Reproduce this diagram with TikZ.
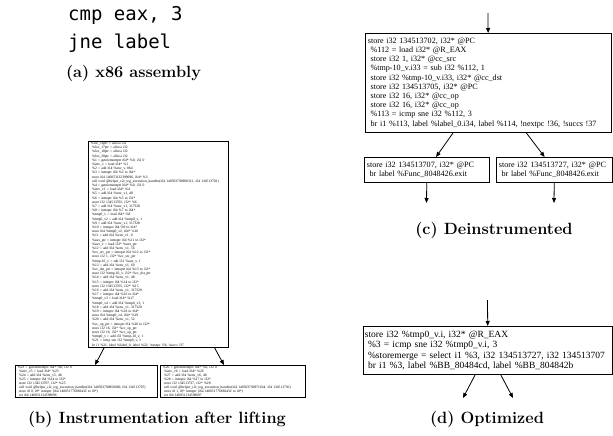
\documentclass[tikz,border=0pt]{standalone}
\usepackage{fontspec}
\newfontfamily\irfont{Liberation Serif}
\newfontfamily\asmfont{DejaVu Sans Mono}
\usetikzlibrary{arrows.meta}

\tikzset{
  irbox/.style={draw, line width=0.8pt, anchor=north west, align=left,
    inner xsep=2.5pt, inner ysep=0pt},
  tinyir/.style={font=\irfont\fontsize{3.6}{4.2}\selectfont},
  smallir/.style={font=\irfont\fontsize{3.6}{3.9}\selectfont},
  midir/.style={font=\irfont\fontsize{8.1}{9.2}\selectfont},
  optir/.style={font=\irfont\fontsize{9.5}{10.4}\selectfont},
  arr/.style={-{Triangle[length=5pt,width=4pt]}, line width=0.8pt},
  caption/.style={font=\bfseries\fontsize{16.3}{19}\selectfont, inner sep=0pt},
  asmline/.style={font=\asmfont\fontsize{19}{22}\selectfont, anchor=west, inner sep=0pt}
}

\begin{document}
\begin{tikzpicture}[x=1pt,y=-1pt]
\useasboundingbox (0,0) rectangle (613,436);

% (a) source instructions
\node[asmline] (asmA) at (68,15) {cmp eax, 3};
\node[asmline] (asmB) at (68,43) {jne label};
\node[caption] (capA) at (133.5,73) {(a) x86 assembly};

% (b) lifted block with instrumentation
\node[irbox, tinyir, minimum width=140, minimum height=206, text width=135] (bmain) at (88,141) {%
\%loc\_16ptr = alloca i32\\
\ \%loc\_17ptr = alloca i32\\
\ \%loc\_18ptr = alloca i32\\
\ \%loc\_20ptr = alloca i32\\
\ \%1 = getelementptr i64* \%0, i32 0\\
\ \%env\_v = load i64* \%1\\
\ \%2 = add i64 \%env\_v, 864\\
\ \%3 = inttoptr i64 \%2 to i64*\\
\ store i64 140053132399696, i64* \%3\\
\ call void @helper\_c2r\_tcg\_execution\_handler(i64 140503790908312, i64 134513702)\\
\ \%4 = getelementptr i64* \%0, i32 0\\
\ \%env\_v1 = load i64* \%4\\
\ \%5 = add i64 \%env\_v1, 48\\
\ \%6 = inttoptr i64 \%5 to i32*\\
\ store i32 134513702, i32* \%6\\
\ \%7 = add i64 \%env\_v1, 317328\\
\ \%8 = inttoptr i64 \%7 to i64*\\
\ \%tmp0\_v = load i64* \%8\\
\ \%tmp0\_v2 = add i64 \%tmp0\_v, 1\\
\ \%9 = add i64 \%env\_v1, 317328\\
\ \%10 = inttoptr i64 \%9 to i64*\\
\ store i64 \%tmp0\_v2, i64* \%10\\
\ \%11 = add i64 \%env\_v1, 0\\
\ \%eax\_ptr = inttoptr i64 \%11 to i32*\\
\ \%eax\_v = load i32* \%eax\_ptr\\
\ \%12 = add i64 \%env\_v1, 56\\
\ \%cc\_src\_ptr = inttoptr i64 \%12 to i32*\\
\ store i32 1, i32* \%cc\_src\_ptr\\
\ \%tmp-10\_v = sub i32 \%eax\_v, 1\\
\ \%13 = add i64 \%env\_v1, 60\\
\ \%cc\_dst\_ptr = inttoptr i64 \%13 to i32*\\
\ store i32 \%tmp-10\_v, i32* \%cc\_dst\_ptr\\
\ \%14 = add i64 \%env\_v1, 48\\
\ \%15 = inttoptr i64 \%14 to i32*\\
\ store i32 134513705, i32* \%15\\
\ \%16 = add i64 \%env\_v1, 317328\\
\ \%17 = inttoptr i64 \%16 to i64*\\
\ \%tmp0\_v3 = load i64* \%17\\
\ \%tmp0\_v4 = add i64 \%tmp0\_v3, 1\\
\ \%18 = add i64 \%env\_v1, 317328\\
\ \%19 = inttoptr i64 \%18 to i64*\\
\ store i64 \%tmp0\_v4, i64* \%19\\
\ \%20 = add i64 \%env\_v1, 52\\
\ \%cc\_op\_ptr = inttoptr i64 \%20 to i32*\\
\ store i32 16, i32* \%cc\_op\_ptr\\
\ store i32 16, i32* \%cc\_op\_ptr\\
\ \%tmp0\_v = add i32 \%tmp-10\_v, 1\\
\ \%21 = icmp sne i32 \%tmp0\_v, 3\\
\ br i1 \%21, label \%label\_0, label \%22, !nextpc !36, !succs !37};

\node[irbox, smallir, minimum width=142, minimum height=32, text width=137] (bleft) at (15,365) {%
\%23 = getelementptr i64* \%0, i32 0\\
\ \%env\_v5 = load i64* \%23\\
\ \%24 = add i64 \%env\_v5, 48\\
\ \%25 = inttoptr i64 \%24 to i32*\\
\ store i32 134513707, i32* \%25\\
\ call void @helper\_c2r\_tcg\_execution\_handler(i64 140503790850000, i64 134513707)\\
\ store i8 0, i8* inttoptr (i64 140051776882432 to i8*)\\
\ ret i64 140051134598696};

\node[irbox, smallir, minimum width=145, minimum height=32, text width=140] (bright) at (160,365) {%
\%26 = getelementptr i64* \%0, i32 0\\
\ \%env\_v6 = load i64* \%26\\
\ \%27 = add i64 \%env\_v6, 48\\
\ \%28 = inttoptr i64 \%27 to i32*\\
\ store i32 134513727, i32* \%28\\
\ call void @helper\_c2r\_tcg\_execution\_handler(i64 140503790971624, i64 134513730)\\
\ store i8 1, i8* inttoptr (i64 140051776882432 to i8*)\\
\ ret i64 140051134598697};

\draw[arr] (bmain) -- (bleft);
\draw[arr] (bmain) -- (bright);
\node[caption] (capB) at (157,419) {(b) Instrumentation after lifting};

% (c) block after removing the instrumentation
\coordinate (cin) at (488,13);
\node[irbox, midir, minimum width=246, minimum height=99, text width=241] (cmain) at (365,33) {%
store i32 134513702, i32* @PC\\
\ \%112 = load i32* @R\_EAX\\
\ store i32 1, i32* @cc\_src\\
\ \%tmp-10\_v.i33 = sub i32 \%112, 1\\
\ store i32 \%tmp-10\_v.i33, i32* @cc\_dst\\
\ store i32 134513705, i32* @PC\\
\ store i32 16, i32* @cc\_op\\
\ store i32 16, i32* @cc\_op\\
\ \%113 = icmp sne i32 \%112, 3\\
\ br i1 \%113, label \%label\_0.i34, label \%114, !nextpc !36, !succs !37};
\node[irbox, midir, minimum width=125, minimum height=25, text width=120] (cleft) at (364,157) {%
store i32 134513707, i32* @PC\\
\ br label \%Func\_8048426.exit};
\node[irbox, midir, minimum width=116, minimum height=25, text width=111] (cright) at (496,157) {%
store i32 134513727, i32* @PC\\
\ br label \%Func\_8048426.exit};
\coordinate (cLout) at (426.5,203);
\coordinate (cRout) at (554,203);
\draw[arr] (cin) -- (cmain);
\draw[arr] (cmain) -- (cleft);
\draw[arr] (cmain) -- (cright);
\draw[arr] (cleft) -- (cLout);
\draw[arr] (cright) -- (cRout);
\node[caption] (capC) at (494,230) {(c) Deinstrumented};

% (d) block after optimisation
\coordinate (din) at (487.5,300);
\node[irbox, optir, inner xsep=1.5pt, minimum width=249, minimum height=48, text width=246] (dmain) at (363,326) {%
store i32 \%tmp0\_v.i, i32* @R\_EAX\\
\ \%3 = icmp sne i32 \%tmp0\_v.i, 3\\
\ \%storemerge = select i1 \%3, i32 134513727, i32 134513707\\
\ br i1 \%3, label \%BB\_80484cd, label \%BB\_804842b};
\coordinate (dLout) at (463,398);
\coordinate (dRout) at (513,398);
\draw[arr] (din) -- (dmain);
\draw[arr] (dmain) -- (dLout);
\draw[arr] (dmain) -- (dRout);
\node[caption] (capD) at (487,419) {(d) Optimized};
\end{tikzpicture}
\end{document}
